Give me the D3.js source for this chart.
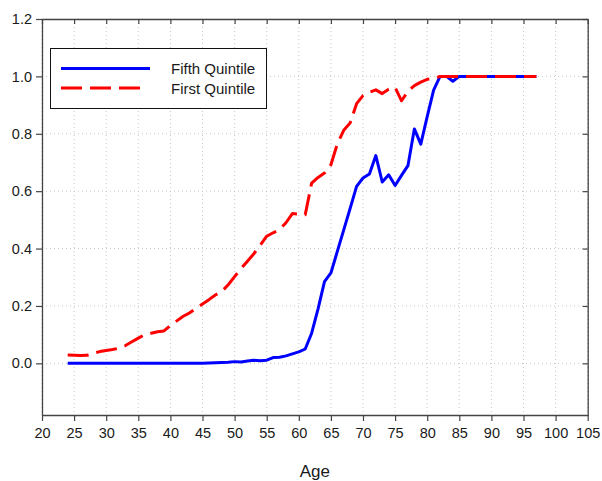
<!DOCTYPE html>
<html>
<head>
<meta charset="utf-8">
<script src="https://cdn.jsdelivr.net/npm/d3@7"></script>
<style>
  html, body { margin: 0; padding: 0; background: #fff; }
  svg { display: block; font-family: "Liberation Sans", Arial, sans-serif; }
</style>
</head>
<body>
<svg id="chart" width="602" height="481"></svg>
<script>
// Share of each age group, by income quintile
const ages = d3.range(24, 98);

const fifthQuintile = [
  0, 0, 0, 0, 0, 0, 0, 0, 0, 0,                         // 24-33
  0, 0, 0, 0, 0, 0, 0, 0, 0, 0,                         // 34-43
  0, 0, 0.001, 0.002, 0.003, 0.004, 0.006, 0.005, 0.008, 0.011, // 44-53
  0.009, 0.011, 0.02, 0.021, 0.026, 0.033, 0.04, 0.05, 0.105, 0.19, // 54-63
  0.285, 0.315, 0.39, 0.465, 0.54, 0.617, 0.646, 0.66, 0.724, 0.632, // 64-73
  0.657, 0.62, 0.655, 0.689, 0.817, 0.764, 0.86, 0.952, 1.0, 1.0,   // 74-83
  0.983, 1.0, 1.0, 1.0, 1.0, 1.0, 1.0, 1.0, 1.0, 1.0,   // 84-93
  1.0, 1.0, 1.0, 1.0                                    // 94-97
];

const firstQuintile = [
  0.029, 0.028, 0.027, 0.028, 0.035, 0.041, 0.045, 0.048, 0.053, 0.062, // 24-33
  0.075, 0.088, 0.1, 0.105, 0.11, 0.113, 0.132, 0.148, 0.164, 0.176,    // 34-43
  0.192, 0.207, 0.222, 0.238, 0.25, 0.274, 0.302, 0.33, 0.356, 0.382,   // 44-53
  0.412, 0.443, 0.455, 0.466, 0.49, 0.522, 0.52, 0.518, 0.628, 0.648,   // 54-63
  0.663, 0.692, 0.765, 0.812, 0.838, 0.905, 0.933, 0.945, 0.953, 0.94,  // 64-73
  0.955, 0.962, 0.915, 0.948, 0.968, 0.98, 0.99, 0.993, 1.0, 1.0,       // 74-83
  1.0, 1.0, 1.0, 1.0, 1.0, 1.0, 1.0, 1.0, 1.0, 1.0,                     // 84-93
  1.0, 1.0, 1.0, 1.0                                                    // 94-97
];

const xTicks = d3.range(20, 106, 5);
const yTicks = [0, 0.2, 0.4, 0.6, 0.8, 1.0, 1.2];
const seriesNames = ["Fifth Quintile", "First Quintile"];

const svg = d3.select("#chart");
const plotLeft = 42, plotRight = 587.7, plotTop = 19, plotBottom = 415;

const x = d3.scaleLinear().domain([20, 105]).range([plotLeft, plotRight]);
const y = d3.scaleLinear().domain([-0.18, 1.2]).range([plotBottom, plotTop]);

// dotted grid
const grid = svg.append("g");
grid.selectAll("line.vx").data(xTicks).join("line")
  .attr("x1", d => x(d)).attr("x2", d => x(d))
  .attr("y1", plotTop).attr("y2", plotBottom)
  .attr("stroke", "#c8c8c8").attr("stroke-width", 1)
  .attr("stroke-dasharray", "1,3");
grid.selectAll("line.hy").data(yTicks).join("line")
  .attr("x1", plotLeft).attr("x2", plotRight)
  .attr("y1", d => y(d)).attr("y2", d => y(d))
  .attr("stroke", "#c8c8c8").attr("stroke-width", 1)
  .attr("stroke-dasharray", "1,3");

const axisColor = "#444";
function styleAxis(g) {
  g.select(".domain").attr("stroke", axisColor).attr("stroke-width", 1.3);
  g.selectAll(".tick line").attr("stroke", axisColor).attr("stroke-width", 1.2);
  g.selectAll(".tick text").attr("fill", "#1a1a1a")
    .attr("font-size", "14.5px")
    .attr("font-family", "'Liberation Sans', Arial, sans-serif");
}

// bottom axis
svg.append("g").attr("transform", `translate(0,${plotBottom})`)
  .call(d3.axisBottom(x).tickValues(xTicks).tickSize(6).tickSizeOuter(0).tickPadding(7))
  .call(styleAxis);

// left axis
svg.append("g").attr("transform", `translate(${plotLeft},0)`)
  .call(d3.axisLeft(y).tickValues(yTicks).tickFormat(d3.format(".1f")).tickSize(6).tickSizeOuter(0).tickPadding(4))
  .call(styleAxis);

// top frame with inward ticks
svg.append("g").attr("transform", `translate(0,${plotTop})`)
  .call(d3.axisBottom(x).tickValues(xTicks).tickSize(5).tickSizeOuter(0).tickFormat(""))
  .call(styleAxis);

// right frame with inward ticks
svg.append("g").attr("transform", `translate(${plotRight},0)`)
  .call(d3.axisLeft(y).tickValues(yTicks).tickSize(5).tickSizeOuter(0).tickFormat(""))
  .call(styleAxis);

// x axis title
svg.append("text")
  .attr("x", (plotLeft + plotRight) / 2).attr("y", 477)
  .attr("text-anchor", "middle")
  .attr("font-size", "17px").attr("fill", "#1a1a1a")
  .text("Age");

const line = d3.line().x((d, i) => x(ages[i])).y(d => y(d));

svg.append("path").datum(fifthQuintile)
  .attr("d", line)
  .attr("fill", "none").attr("stroke", "#0000ff")
  .attr("stroke-width", 3).attr("stroke-linejoin", "round");

svg.append("path").datum(firstQuintile)
  .attr("d", line)
  .attr("fill", "none").attr("stroke", "#ff0000")
  .attr("stroke-width", 3).attr("stroke-linejoin", "round")
  .attr("stroke-dasharray", "21,8");

// legend
const lg = svg.append("g");
lg.append("rect")
  .attr("x", 50.5).attr("y", 48.5).attr("width", 216).attr("height", 60)
  .attr("fill", "#fff").attr("stroke", "#111").attr("stroke-width", 1);

const legendItems = [
  { name: seriesNames[0], color: "#0000ff", dash: null, yy: 68.5 },
  { name: seriesNames[1], color: "#ff0000", dash: "21,8", yy: 88 }
];
legendItems.forEach(it => {
  lg.append("line")
    .attr("x1", 61).attr("x2", it.dash ? 140 : 150)
    .attr("y1", it.yy).attr("y2", it.yy)
    .attr("stroke", it.color).attr("stroke-width", 3)
    .attr("stroke-dasharray", it.dash);
  lg.append("text")
    .attr("x", 171).attr("y", it.yy + 5.5)
    .attr("font-size", "15px").attr("fill", "#1a1a1a")
    .text(it.name);
});
</script>
</body>
</html>
